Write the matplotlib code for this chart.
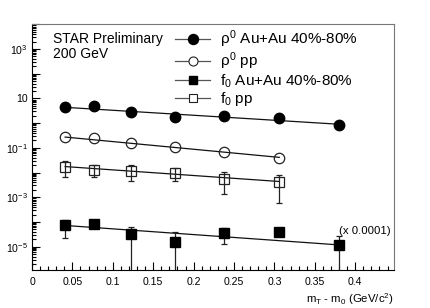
import numpy as np
import matplotlib
matplotlib.use("Agg")
import matplotlib.pyplot as plt
import matplotlib.ticker as ticker
from matplotlib.lines import Line2D

plt.rcParams["font.family"] = ["Liberation Sans", "DejaVu Sans"]
plt.rcParams["mathtext.fontset"] = "custom"
plt.rcParams["mathtext.rm"] = "Liberation Sans"
plt.rcParams["mathtext.it"] = "Liberation Sans"

# rho0 Au+Au 40%-80%
rho_auau_x = [0.041, 0.077, 0.123, 0.177, 0.238, 0.306, 0.380]
rho_auau_y = [4.4, 4.8, 2.75, 1.72, 1.9, 1.57, 0.85]
# rho0 pp
rho_pp_x = [0.041, 0.077, 0.123, 0.177, 0.238, 0.306]
rho_pp_y = [0.265, 0.24, 0.15, 0.104, 0.065, 0.039]
# f0 Au+Au 40%-80% (x 0.0001)
f0_auau_x = [0.041, 0.077, 0.123, 0.177, 0.238, 0.306, 0.380]
f0_auau_y = [7.2e-5, 8.4e-5, 3.3e-5, 1.57e-5, 3.6e-5, 4.0e-5, 1.18e-5]
f0_auau_err = [4.9e-5, 1.5e-5, 3.2e-5, 2.4e-5, 2.3e-5, 0.5e-5, 1.57e-5]
# f0 pp
f0_pp_x = [0.041, 0.077, 0.123, 0.177, 0.238, 0.306]
f0_pp_y = [0.0175, 0.0132, 0.012, 0.010, 0.0057, 0.0043]
f0_pp_err = [0.011, 0.0063, 0.0073, 0.0053, 0.0044, 0.0037]

# exponential fits: log10(y) = a + b * x
rho_auau_fit = (0.721, -2.02)
rho_pp_fit = (-0.438, -3.10)
f0_auau_fit = (-4.047, -2.32)
f0_pp_fit = (-1.665, -2.28)

labels = [r"$\rho^{0}$ Au+Au 40%-80%", r"$\rho^{0}$ pp",
          r"f$_{0}$ Au+Au 40%-80%", r"f$_{0}$ pp"]

fig = plt.figure(figsize=(4.3, 3.08), dpi=100)
ax = fig.add_axes([32 / 430, 38 / 308, 362 / 430, 246 / 308])


def draw_fit(xs, fit):
    xf = np.linspace(xs[0], xs[-1], 50)
    ax.plot(xf, 10 ** (fit[0] + fit[1] * xf), color="#111111", lw=0.9, zorder=2)


def lower_err(y, e):
    y = np.array(y)
    e = np.array(e)
    return np.minimum(e, y - 1e-8)


draw_fit(rho_auau_x, rho_auau_fit)
draw_fit(rho_pp_x, rho_pp_fit)
draw_fit(f0_auau_x, f0_auau_fit)
draw_fit(f0_pp_x, f0_pp_fit)

ax.plot(rho_auau_x, rho_auau_y, "o", ms=7.5, color="black", zorder=3)
ax.plot(rho_pp_x, rho_pp_y, "o", ms=7.5, mfc="none", mec="#222222", mew=0.9, zorder=3)
ax.errorbar(f0_auau_x, f0_auau_y,
            yerr=[lower_err(f0_auau_y, f0_auau_err), f0_auau_err],
            fmt="s", ms=7, color="black", ecolor="#222222", elinewidth=0.9,
            capsize=2.2, capthick=0.9, zorder=3)
ax.errorbar(f0_pp_x, f0_pp_y,
            yerr=[lower_err(f0_pp_y, f0_pp_err), f0_pp_err],
            fmt="s", ms=7, mfc="none", mec="#222222", mew=0.9, ecolor="#222222",
            elinewidth=0.9, capsize=2.2, capthick=0.9, zorder=3)

ax.set_yscale("log")
ax.set_xlim(0, 0.448)
ax.set_ylim(10 ** -5.944, 10 ** 4.01)

# ticks
ax.xaxis.set_major_locator(ticker.MultipleLocator(0.05))
ax.xaxis.set_minor_locator(ticker.MultipleLocator(0.01))
ax.xaxis.set_major_formatter(ticker.FuncFormatter(lambda v, p: "0" if abs(v) < 1e-9 else ("%g" % v)))
ax.yaxis.set_major_locator(ticker.LogLocator(base=10, numticks=20))
ax.yaxis.set_minor_locator(ticker.LogLocator(base=10, subs=np.arange(2, 10), numticks=20))


def ylab(v, p):
    k = int(round(np.log10(v)))
    if k % 2 == 0:
        return ""
    if k == 1:
        return "10"
    return r"$10^{%d}$" % k


ax.yaxis.set_major_formatter(ticker.FuncFormatter(ylab))
ax.yaxis.set_minor_formatter(ticker.NullFormatter())
ax.tick_params(which="both", direction="in", top=False, right=False, labelsize=7.6, width=0.8)
ax.tick_params(which="major", length=5.5)
ax.tick_params(which="minor", length=2.8)
ax.tick_params(axis="x", pad=5)
ax.tick_params(axis="y", pad=3)

for side in ["top", "right"]:
    ax.spines[side].set_color("#777777")
for s in ax.spines.values():
    s.set_linewidth(0.8)

ax.text(0.058, 0.94, "STAR Preliminary", transform=ax.transAxes, fontsize=10, va="center")
ax.text(0.058, 0.878, "200 GeV", transform=ax.transAxes, fontsize=10, va="center")
ax.text(0.99, 0.158, "(x 0.0001)", transform=ax.transAxes, fontsize=8.2, ha="right", va="center")
ax.text(1.0, -0.118, r"m$_{T}$ - m$_{0}$ (GeV/c$^{2}$)", transform=ax.transAxes,
        fontsize=8.2, ha="right", va="center")

handles = [
    Line2D([], [], color="#555555", lw=0.9, marker="o", ms=7.2, mfc="black", mec="black"),
    Line2D([], [], color="#555555", lw=0.9, marker="o", ms=6.5, mfc="white", mec="#222222", mew=0.8),
    Line2D([], [], color="#555555", lw=0.9, marker="s", ms=5.5, mfc="black", mec="black"),
    Line2D([], [], color="#555555", lw=0.9, marker="s", ms=5.5, mfc="white", mec="#222222", mew=0.8),
]
ax.legend(handles, labels, loc="upper left", bbox_to_anchor=(0.395, 0.982), frameon=False,
          fontsize=11, handlelength=2.3, handletextpad=0.65, labelspacing=0.02,
          borderpad=0, borderaxespad=0)

fig.savefig("out.png", dpi=100)
